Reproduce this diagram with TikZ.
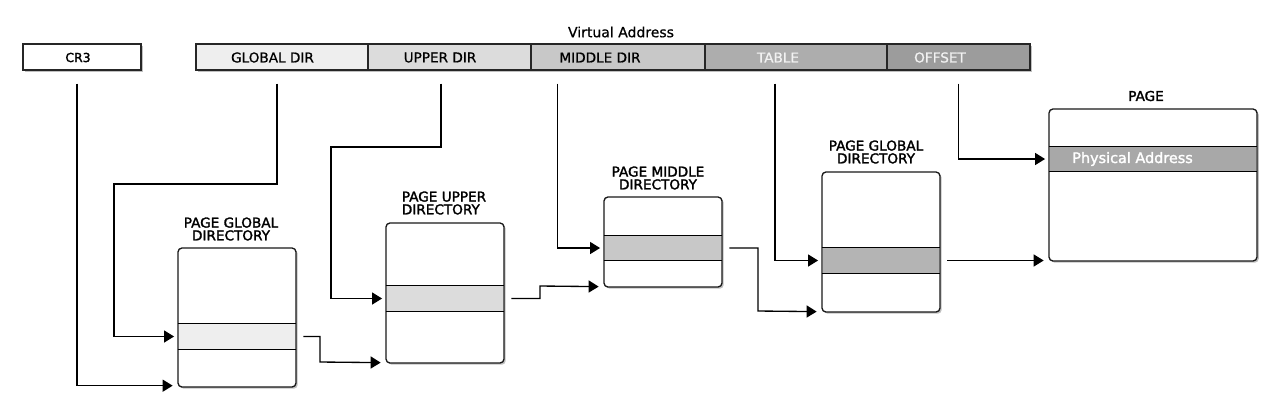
\documentclass[tikz,border=0pt]{standalone}
\usepackage{fontspec}
\setmainfont{DejaVu Sans}
\newfontfamily\labfont[FakeBold=1.8]{DejaVu Sans}
\newfontfamily\segfont[FakeBold=0.7]{DejaVu Sans}
\usetikzlibrary{arrows.meta,shadows,fit}
\definecolor{cA}{HTML}{EEEEEE}
\definecolor{cB}{HTML}{DCDCDC}
\definecolor{cC}{HTML}{C8C8C8}
\definecolor{cD}{HTML}{ADADAD}
\definecolor{cE}{HTML}{9C9C9C}
\definecolor{rD}{HTML}{B4B4B4}
\definecolor{rE}{HTML}{A8A8A8}
\tikzset{
  shad/.style={drop shadow={shadow xshift=1.3pt,shadow yshift=-1.3pt,fill=black!45,opacity=0.55}},
  seg/.style={draw=black!85,line width=0.9pt,inner sep=0pt},
  box/.style={draw=black!90,line width=1pt,rounded corners=3pt,fill=white,inner sep=0pt,shad},
  rowf/.style={inner sep=0pt},
  segtxt/.style={font=\segfont\fontsize{10.2}{12}\selectfont,inner sep=0pt},
  labtxt/.style={font=\labfont\fontsize{10.2}{9.6}\selectfont,align=center,inner sep=0pt},
  conn/.style={line width=1pt,-{Triangle[length=7.5pt,width=9pt]},shorten >=3.5pt},
}
\begin{document}
\begin{tikzpicture}[x=0.75pt,y=-0.75pt]
\useasboundingbox (0,0) rectangle (1280,419);
% title
\node[segtxt,font=\segfont\fontsize{10.5}{12}\selectfont] (title) at (621,32) {Virtual Address};
% CR3
\node[seg,fill=white,shad,fit={(23,44)(141,70)}] (cr3) {};
\node[segtxt,font=\labfont\fontsize{9.3}{11}\selectfont] (cr3t) at (78,57.5) {CR3};
% bar
\path[fill=white,shad] (196,44) rectangle (1030,70);
\node[seg,fill=cA,fit={(196,44)(368,70)}] (gd) {};
\node[seg,fill=cB,fit={(368,44)(531,70)}] (ud) {};
\node[seg,fill=cC,fit={(531,44)(705,70)}] (md) {};
\node[seg,fill=cD,fit={(705,44)(887,70)}] (tb) {};
\node[seg,fill=cE,fit={(887,44)(1030,70)}] (of) {};
\node[segtxt] (gdt) at (272.5,57.5) {GLOBAL DIR};
\node[segtxt] (udt) at (440,57.5) {UPPER DIR};
\node[segtxt] (mdt) at (600,57.5) {MIDDLE DIR};
\node[segtxt,text=black!5] (tbt) at (778,57.5) {TABLE};
\node[segtxt,text=black!5] (oft) at (940,57.5) {OFFSET};
% tables
\node[box,fit={(178,248)(296,387)}] (pgd) {};
\node[rowf,fill=cA,fit={(179,324)(295,349)}] (pgdrow) {};
\node[box,fit={(386,223)(504,363)}] (pud) {};
\node[rowf,fill=cB,fit={(387,286)(503,311)}] (pudrow) {};
\node[box,fit={(604,197)(722,287)}] (pmd) {};
\node[rowf,fill=cC,fit={(605,236)(721,260)}] (pmdrow) {};
\node[box,fit={(822,172)(940,312)}] (pt) {};
\node[rowf,fill=rD,fit={(823,248)(939,273)}] (ptrow) {};
\node[box,fit={(1049,109)(1257,261)}] (page) {};
\node[rowf,fill=rE,fit={(1050,147)(1256,171)}] (pagerow) {};
\foreach \r in {pgdrow,pudrow,pmdrow,ptrow,pagerow}{
  \draw[line width=0.9pt] ([xshift=-0.75pt]\r.north west) -- ([xshift=0.75pt]\r.north east)
    ([xshift=-0.75pt]\r.south west) -- ([xshift=0.75pt]\r.south east);
}
\node[segtxt,anchor=west,text=white,font=\labfont\fontsize{10.8}{12}\selectfont] (phys) at (1072,159) {Physical Address};
% labels
\node[labtxt] (l1) at (231,229) {PAGE GLOBAL\\DIRECTORY};
\node[labtxt,align=left] (l2) at (444,203) {PAGE UPPER\\DIRECTORY};
\node[labtxt] (l3) at (658,178) {PAGE MIDDLE\\DIRECTORY};
\node[labtxt] (l4) at (876,152) {PAGE GLOBAL\\DIRECTORY};
\node[labtxt] (l5) at (1146,96) {PAGE};
% connectors
\draw[conn,shorten <=9.75pt] ([xshift=-3.75pt]cr3.south) |- ([yshift=1.5pt]pgd.south west);
\draw[conn,shorten <=9.75pt] ([xshift=-3.75pt]gd.south) |- (114,184) |- (pgdrow.west);
\draw[conn,shorten <=9.75pt] ([xshift=-6.4pt]ud.south) |- (331,147) |- (pudrow.west);
\draw[conn,shorten <=9.75pt] ([xshift=-45.4pt]md.south) |- (pmdrow.west);
\draw[conn,shorten <=9.75pt] ([xshift=-15.75pt]tb.south) |- (ptrow.west);
\draw[conn,shorten <=9.75pt] (of.south) |- (pagerow.west);
\draw[conn,shorten <=6pt] (pgdrow.east) -| (320,362) -- ([yshift=0.75pt]pud.south west);
\draw[conn,shorten <=6pt] (pudrow.east) -| (540,286) -- ([yshift=0.75pt]pmd.south west);
\draw[conn,shorten <=6pt] (pmdrow.east) -| (758,311) -- ([yshift=0.75pt]pt.south west);
\draw[conn,shorten <=6pt] (ptrow.east) -- (ptrow.east -| page.west);
\end{tikzpicture}
\end{document}
